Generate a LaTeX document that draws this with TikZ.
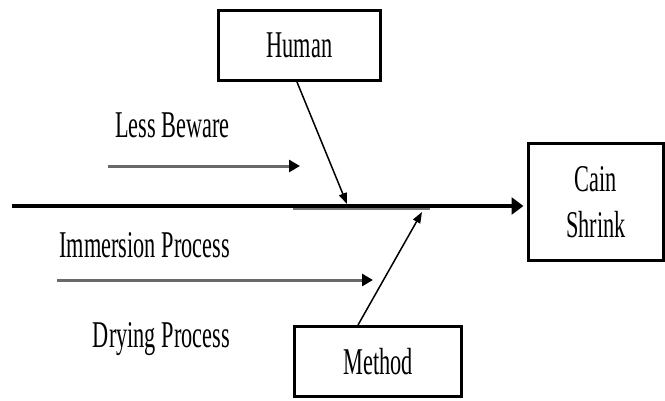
\documentclass[tikz,border=0pt]{standalone}
\usepackage{fontspec}
\setmainfont{Liberation Serif}
\newfontfamily\sqfont[FakeStretch=0.59]{Liberation Serif}
\usetikzlibrary{arrows.meta}
\begin{document}
\begin{tikzpicture}[x=1pt,y=-1pt,
  txt/.style={font={\sqfont\fontsize{37.8}{47}\selectfont}},
  box/.style={txt,draw=black,line width=3pt,inner sep=0pt,align=center},
  lbl/.style={txt,inner sep=0pt,anchor=base east},
  cause/.style={draw=black,line width=1.5pt,-{Triangle[length=11pt,width=8pt]}},
  bone/.style={draw={rgb,255:red,105;green,105;blue,105},line width=3pt,-{Triangle[length=11pt,width=12pt,color=black,fill=black]}},
  spine/.style={draw=black,line width=4.5pt,-{Triangle[length=12pt,width=17pt]}},
  under/.style={draw={rgb,255:red,120;green,120;blue,120},line width=1.8pt}
]
\fill[white] (0,0) rectangle (665,400);
\useasboundingbox (0,0) rectangle (665,400);

% boxes
\node[box,minimum width=162pt,minimum height=70pt] (human) at (299.5,45.5) {Human};
\node[box,minimum width=167pt,minimum height=70pt] (method) at (378,361.5) {Method};
\node[box,minimum width=135pt,minimum height=117pt] (cain) at (596,202) {Cain\\[-1pt]Shrink};

% labels
\node[lbl] (lb) at (230,137) {Less Beware};
\node[lbl] (ip) at (230,257) {Immersion Process};
\node[lbl] (dp) at (230,347) {Drying Process};

% coordinates
\coordinate (s0) at (12,206);
\coordinate (u0) at (293,209.2);
\coordinate (u1) at (430,209.2);
\coordinate (hEnd) at (347,204);
\coordinate (mEnd) at (422,212);
\coordinate (lb0) at (108,166);
\coordinate (lb1) at (300,166);
\coordinate (ip0) at (57,280);
\coordinate (ip1) at (373,280);

% spine
\draw[under] (u0) -- (u1);
\draw[spine,shorten >=3.5pt] (s0) -- (s0 -| cain.west);

% causes
\draw[cause] ([xshift=-2.5pt]human.south) -- (hEnd);
\draw[cause] ([xshift=-20pt]method.north) -- (mEnd);
\draw[bone] (lb0) -- (lb1);
\draw[bone] (ip0) -- (ip1);
\end{tikzpicture}
\end{document}
